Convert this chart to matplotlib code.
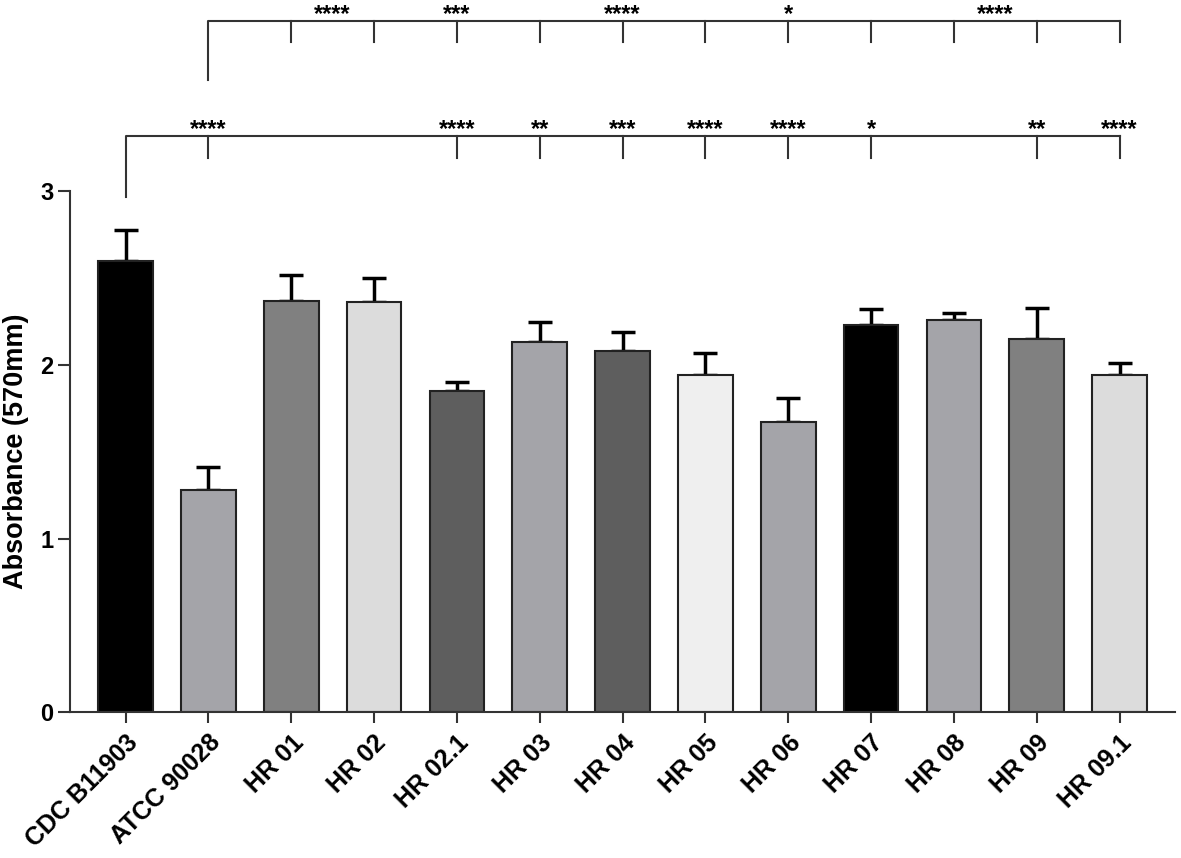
import matplotlib.pyplot as plt
import numpy as np

plt.rcParams['font.family'] = ['Liberation Sans', 'DejaVu Sans']
plt.rcParams['font.weight'] = 'bold'
plt.rcParams['axes.labelweight'] = 'bold'

strains = ['CDC B11903', 'ATCC 90028', 'HR 01', 'HR 02', 'HR 02.1', 'HR 03', 'HR 04',
           'HR 05', 'HR 06', 'HR 07', 'HR 08', 'HR 09', 'HR 09.1']
absorbance = [2.60, 1.28, 2.37, 2.36, 1.85, 2.13, 2.08, 1.94, 1.67, 2.23, 2.26, 2.15, 1.94]
sd = [0.18, 0.13, 0.15, 0.14, 0.05, 0.12, 0.11, 0.13, 0.14, 0.09, 0.04, 0.18, 0.07]
colors = ['#000000', '#a4a4a9', '#808080', '#dcdcdc', '#5e5e5e', '#a4a4a9', '#5e5e5e',
          '#efefef', '#a4a4a9', '#000000', '#a4a4a9', '#808080', '#dcdcdc']

# comparisons vs CDC B11903 (lower bracket)
low_idx = [1, 4, 5, 6, 7, 8, 9, 11, 12]
low_stars = ['****', '****', '**', '***', '****', '****', '*', '**', '****']
# comparisons vs ATCC 90028 (upper bracket)
up_idx = [2, 3, 4, 5, 6, 7, 8, 9, 10, 11, 12]
up_groups = [[2, 3], [4], [6], [8], [10, 11]]
up_stars = ['****', '***', '****', '*', '****']

fig = plt.figure(figsize=(11.81, 8.58), dpi=100)
ax = fig.add_axes([0.0593, 0.17, 0.9357, 0.607])

x = np.arange(len(strains))
ax.bar(x, absorbance, width=0.66, color=colors, edgecolor='#222222', linewidth=1.5, zorder=2)
ax.errorbar(x, absorbance, yerr=[np.zeros(len(sd)), sd], fmt='none', ecolor='black',
            elinewidth=2.5, capsize=8.5, capthick=2.5, zorder=1)

ax.set_xlim(-0.67, 12.67)
ax.set_ylim(0, 3)
ax.set_yticks([0, 1, 2, 3])
ax.set_xticks(x)
ax.set_xticklabels(strains, rotation=45, ha='right', va='top', rotation_mode='anchor',
                   fontsize=18, fontweight='bold')
ax.set_yticklabels(['0', '1', '2', '3'], fontsize=17, fontweight='bold')
ax.tick_params(axis='y', length=8.5, width=1.5, color='#333333', pad=3.5)
ax.tick_params(axis='x', length=8, width=1.5, color='#333333', pad=5)
ax.set_ylabel('Absorbance (570mm)', fontsize=19.5, fontweight='bold', labelpad=8)
for s in ['top', 'right']:
    ax.spines[s].set_visible(False)
for s in ['left', 'bottom']:
    ax.spines[s].set_linewidth(1.5)
    ax.spines[s].set_color('#333333')

lc = '#333333'
lw = 1.5

# lower bracket
yb, yt, yl = 3.32, 3.19, 2.965
ax.plot([0, 0, low_idx[-1]], [yl, yb, yb], color=lc, lw=lw, clip_on=False)
for i, s in zip(low_idx, low_stars):
    ax.plot([i, i], [yb, yt], color=lc, lw=lw, clip_on=False)
    ax.text(i, yb, s, ha='center', va='baseline', fontsize=17, fontweight='bold',
            clip_on=False)

# upper bracket
yb2, yt2, yl2 = 3.98, 3.86, 3.64
ax.plot([1, 1, up_idx[-1]], [yl2, yb2, yb2], color=lc, lw=lw, clip_on=False)
for i in up_idx:
    ax.plot([i, i], [yb2, yt2], color=lc, lw=lw, clip_on=False)
for g, s in zip(up_groups, up_stars):
    ax.text(np.mean(g), yb2, s, ha='center', va='baseline', fontsize=17,
            fontweight='bold', clip_on=False)

fig.savefig('out.png', dpi=100)
